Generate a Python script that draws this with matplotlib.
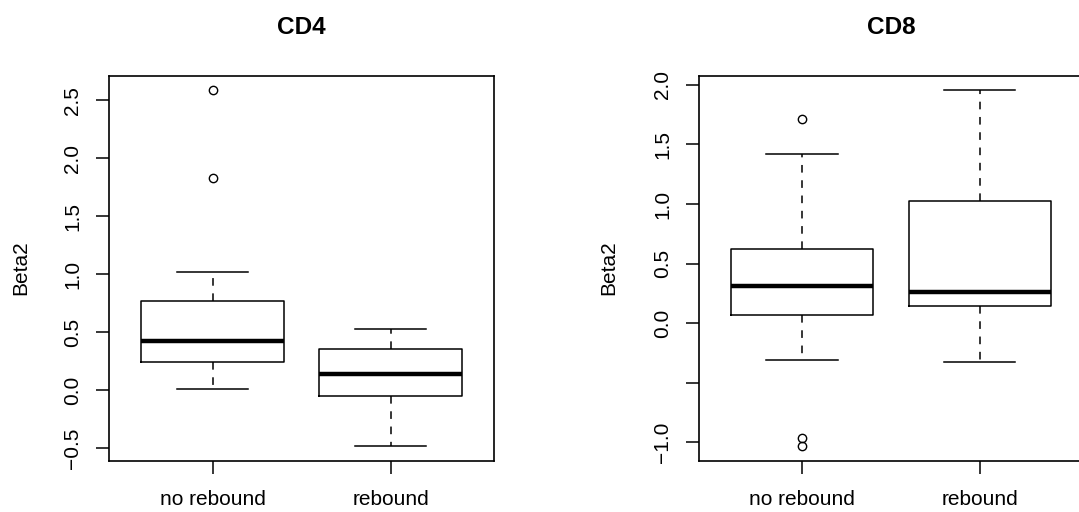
import numpy as np
import matplotlib.pyplot as plt
import matplotlib as mpl

mpl.rcParams['font.family'] = ['Liberation Sans', 'DejaVu Sans']

groups = ["no rebound", "rebound"]

# five-number summaries per group: whislo, q1, med, q3, whishi, plus outliers
cd4_whislo = [0.005, -0.487]
cd4_q1 = [0.238, -0.055]
cd4_med = [0.425, 0.135]
cd4_q3 = [0.765, 0.350]
cd4_whishi = [1.018, 0.526]
cd4_fliers = [[1.83, 2.59], []]

cd8_whislo = [-0.310, -0.330]
cd8_q1 = [0.067, 0.143]
cd8_med = [0.313, 0.260]
cd8_q3 = [0.623, 1.029]
cd8_whishi = [1.418, 1.957]
cd8_fliers = [[1.714, -0.960, -1.035], []]

cd4_ticks = [-0.5, 0.0, 0.5, 1.0, 1.5, 2.0, 2.5]
cd4_ticklabels = ["\u22120.5", "0.0", "0.5", "1.0", "1.5", "2.0", "2.5"]
cd8_ticks = [-1.0, -0.5, 0.0, 0.5, 1.0, 1.5, 2.0]
cd8_ticklabels = ["\u22121.0", "", "0.0", "0.5", "1.0", "1.5", "2.0"]


def make_stats(lo, q1, med, q3, hi, fl):
	out = []
	for i in range(len(lo)):
		out.append(dict(whislo=lo[i], q1=q1[i], med=med[i], q3=q3[i],
						whishi=hi[i], fliers=fl[i]))
	return out


def draw_panel(ax, stats, title, ticks, ticklabels, ylab_x):
	lw = 1.1
	ax.bxp(stats, positions=[1, 2], widths=0.8, capwidths=0.4,
		   boxprops=dict(color='black', linewidth=lw),
		   medianprops=dict(color='black', linewidth=3.2, solid_capstyle='butt'),
		   whiskerprops=dict(color='black', linewidth=lw, linestyle=(0, (5, 5))),
		   capprops=dict(color='black', linewidth=lw),
		   flierprops=dict(marker='o', markersize=6, markerfacecolor='none',
						   markeredgecolor='black', markeredgewidth=1.0))

	# R-style 4% padding around the data range
	vals = []
	for s in stats:
		vals += [s['whislo'], s['whishi']] + list(s['fliers'])
	lo, hi = min(vals), max(vals)
	pad = 0.04 * (hi - lo)
	ax.set_ylim(lo - pad, hi + pad)
	ax.set_xlim(0.42, 2.58)

	ax.set_xticks([1, 2])
	ax.set_xticklabels(groups, fontsize=15)
	ax.set_yticks(ticks)
	ax.set_yticklabels(ticklabels, fontsize=15, rotation=90, va='center')
	ax.tick_params(axis='both', length=9.4, width=1.1, direction='out')
	ax.tick_params(axis='x', pad=12)
	ax.tick_params(axis='y', pad=10)

	for sp in ax.spines.values():
		sp.set_linewidth(1.2)

	ax.set_title(title, fontsize=17.6, fontweight='bold', pad=30)
	ax.set_ylabel("Beta2", fontsize=15)
	ax.yaxis.label.set_va('center')
	ax.yaxis.set_label_coords(ylab_x, 0.5)


fig = plt.figure(figsize=(10.79, 5.12), dpi=100)
ax1 = fig.add_axes([0.1013, 0.1002, 0.3565, 0.752])
ax2 = fig.add_axes([0.6478, 0.1002, 0.3556, 0.752])

draw_panel(ax1, make_stats(cd4_whislo, cd4_q1, cd4_med, cd4_q3, cd4_whishi, cd4_fliers),
		   "CD4", cd4_ticks, cd4_ticklabels, -0.230)
draw_panel(ax2, make_stats(cd8_whislo, cd8_q1, cd8_med, cd8_q3, cd8_whishi, cd8_fliers),
		   "CD8", cd8_ticks, cd8_ticklabels, -0.235)

plt.savefig("out.png", dpi=100)
